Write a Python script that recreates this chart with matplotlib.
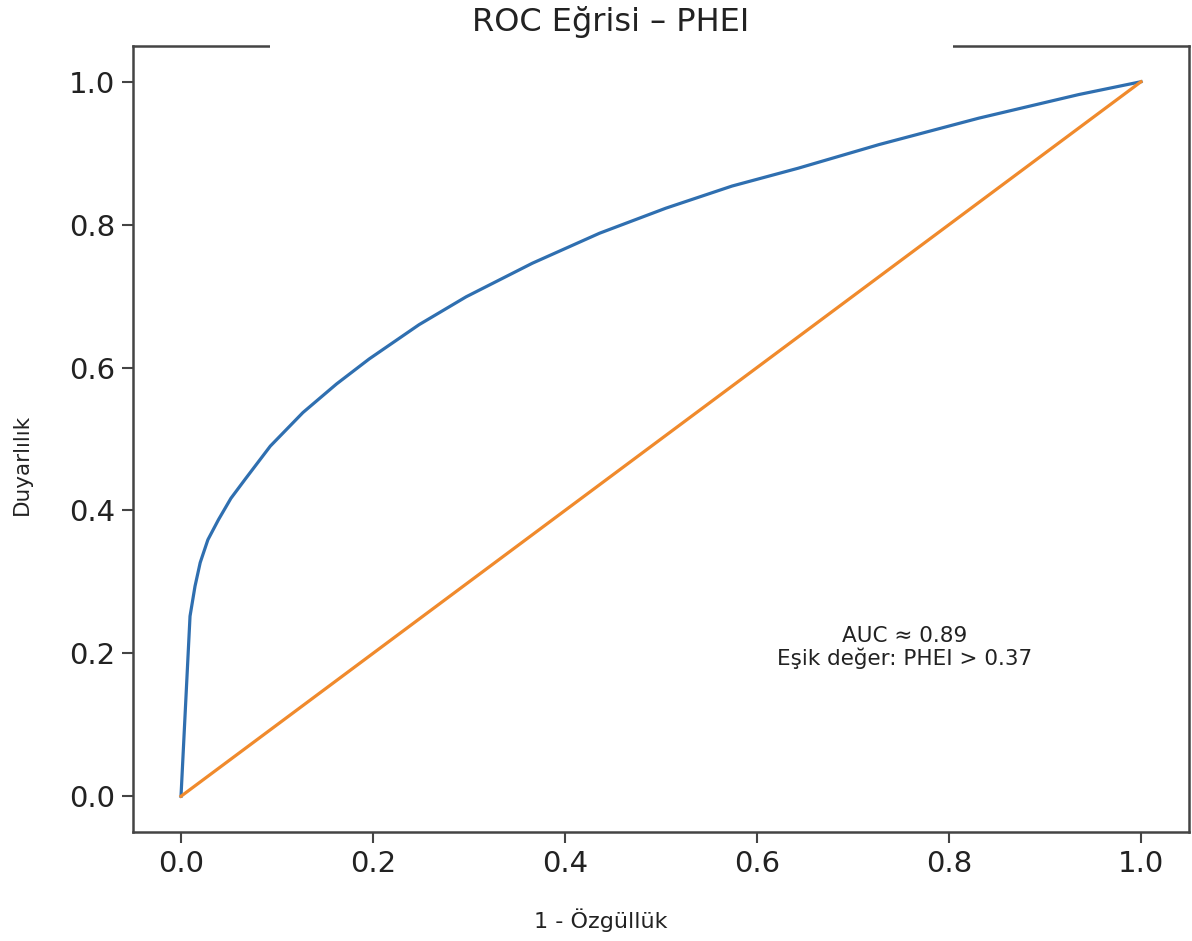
import matplotlib
matplotlib.use("Agg")
import matplotlib.pyplot as plt
from matplotlib.patches import Rectangle

# ---- data ----
fpr = [0.0, 0.0094, 0.0146, 0.020, 0.028, 0.039, 0.052, 0.067, 0.093,
       0.127, 0.162, 0.196, 0.248, 0.297, 0.366, 0.436, 0.505, 0.574,
       0.643, 0.727, 0.831, 0.935, 1.0]
tpr = [0.0, 0.252, 0.294, 0.327, 0.359, 0.387, 0.417, 0.444, 0.490,
       0.537, 0.577, 0.612, 0.660, 0.699, 0.746, 0.788, 0.823, 0.854,
       0.879, 0.912, 0.949, 0.982, 1.0]
diag_x = [0.0, 1.0]
diag_y = [0.0, 1.0]
ticks = [0.0, 0.2, 0.4, 0.6, 0.8, 1.0]
tick_labels = ["0.0", "0.2", "0.4", "0.6", "0.8", "1.0"]
title = "ROC Eğrisi – PHEI"
xlabel = "1 - Özgüllük"
ylabel = "Duyarlılık"
annot = "AUC ≈ 0.89\nEşik değer: PHEI > 0.37"

W, H = 1192, 941
fig = plt.figure(figsize=(W / 100, H / 100), dpi=100)
ax = fig.add_axes([133 / W, 1 - 832 / H, (1189 - 133) / W, (832 - 46) / H])

ax.plot(fpr, tpr, color="#2f6fb0", lw=2.3, solid_joinstyle="round")
ax.plot(diag_x, diag_y, color="#f08a2c", lw=2.3)
ax.set_xlim(-0.05, 1.05)
ax.set_ylim(-0.05, 1.05)

ax.set_xticks(ticks)
ax.set_xticklabels(tick_labels)
ax.set_yticks(ticks)
ax.set_yticklabels(tick_labels)
ax.tick_params(axis="both", labelsize=21, length=8, width=1.5,
               color="#444444", labelcolor="#222222", pad=5)

for s in ax.spines.values():
    s.set_color("#444444")
    s.set_linewidth(1.8)

ax.set_xlabel(xlabel, fontsize=16, color="#222222")
ax.xaxis.set_label_coords((601 - 133) / 1056, (832 - 908) / 786)
ax.set_ylabel(ylabel, fontsize=15.5, color="#222222")
ax.yaxis.set_label_coords((32 - 133) / 1056, (832 - 464) / 786)

ax.text(0.754, 0.208, annot, ha="center", va="center", fontsize=15.5,
        color="#222222", linespacing=1.1)

# white box behind the title that hides the middle of the top spine
fig.patches.append(Rectangle((270 / W, 1 - 56 / H), (953 - 270) / W, 56 / H,
                             transform=fig.transFigure, facecolor="white",
                             edgecolor="none", zorder=10))
fig.text(611 / W, 1 - 22 / H, title, ha="center", va="center", fontsize=23,
         color="#222222", zorder=11)

fig.savefig("out.png", dpi=100, facecolor="white")
